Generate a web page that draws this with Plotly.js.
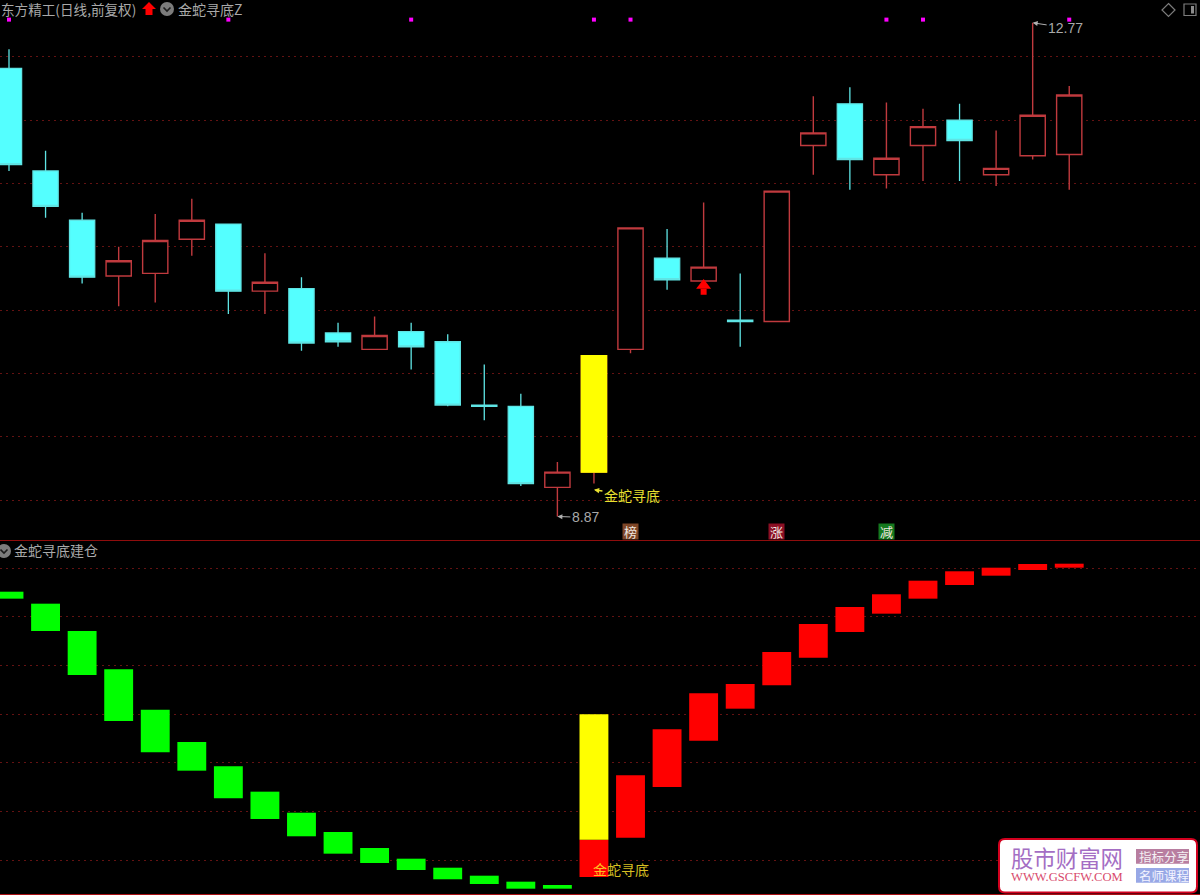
<!DOCTYPE html>
<html>
<head>
<meta charset="utf-8">
<script src="https://cdn.plot.ly/plotly-3.0.1.min.js"></script>
<style>html,body{margin:0;padding:0;background:#000;overflow:hidden}#chart{width:1200px;height:895px}</style>
</head>
<body>
<div id="chart"></div>
<script>
// ---- K-line (price) data ----
const openPrice  = [12.41,11.60,11.21,10.77,10.79,11.06,11.18,10.65,10.67,10.32,10.19,10.33,10.25,9.75,9.74,9.10,9.22,10.19,10.91,10.73,10.42,10.41,11.80,12.13,11.57,11.80,12.00,11.57,11.72,11.73];
const closePrice = [11.65,11.32,10.76,10.89,11.05,11.21,10.65,10.72,10.24,10.25,10.30,10.21,9.75,9.74,9.13,9.22,10.14,11.15,10.74,10.84,10.41,11.44,11.90,11.69,11.70,11.95,11.84,11.62,12.04,12.20];
const highPrice  = [12.56,11.76,11.27,11.00,11.26,11.38,11.18,10.95,10.76,10.40,10.45,10.40,10.31,10.07,9.84,9.30,10.14,11.15,11.14,11.35,10.79,11.44,12.19,12.26,12.14,12.09,12.13,11.92,12.77,12.27];
const lowPrice   = [11.60,11.23,10.71,10.53,10.56,10.93,10.47,10.47,10.18,10.21,10.19,10.03,9.74,9.63,9.11,8.87,9.13,10.16,10.66,10.73,10.21,10.41,11.57,11.45,11.46,11.52,11.52,11.48,11.69,11.45];
const goldIndex  = 16;
const signalDays = [0,6,11,16,17,24,25,29];
const signalLevel = 12.795;
const arrowDay = 19;
const arrowHeadPrice = 10.695;
const arrowTailPrice = 10.645;

// ---- Lower indicator pane data ----
const indicatorTop    = [55.15,52.69,47.08,39.22,30.92,24.29,19.30,14.09,9.77,5.81,2.53,0.33,-1.52,-3.16,-4.39,-5.07,4.21,17.45,26.90,34.29,36.20,42.77,48.52,52.01,54.62,57.41,59.34,60.08,60.84,60.90];
const indicatorBottom = [53.72,47.08,38.05,28.60,22.18,18.40,12.73,8.48,4.93,1.36,-0.55,-1.99,-3.90,-4.87,-5.83,-5.83,-3.43,4.64,15.05,24.56,31.13,35.93,41.60,46.88,50.64,53.72,56.53,58.44,59.61,60.08];
const goldTop = 29.98;
const fallingCount = 16;

// ---- Text ----
const stockTitle = '东方精工(日线,前复权)';
const formulaTitle = '金蛇寻底Z';
const lowerTitle = '金蛇寻底建仓';
const signalLabel = '金蛇寻底';
const badges = [{i:17,t:'榜',c:'#7d4526'},{i:21,t:'涨',c:'#8c0f24'},{i:24,t:'减',c:'#14791e'}];

const W = 1200, H = 895;
const px = v => v / W, py = v => 1 - v / H;
const CJK = '"Noto Sans CJK SC", sans-serif';
const days = openPrice.map((_, i) => i);
const xRange = [-0.2462, 32.577];
const RED = '#c03a3e', CYAN = '#54ffff';

const traces = [
  {type:'candlestick', x:days, open:openPrice, high:highPrice, low:lowPrice, close:closePrice,
   xaxis:'x', yaxis:'y', whiskerwidth:0,
   increasing:{line:{color:RED,width:1.4}, fillcolor:'#000000'},
   decreasing:{line:{color:'#5fe4e4',width:1.3}, fillcolor:CYAN}},
  {type:'candlestick', x:[goldIndex], open:[openPrice[goldIndex]], high:[closePrice[goldIndex]],
   low:[openPrice[goldIndex]], close:[closePrice[goldIndex]],
   xaxis:'x', yaxis:'y', whiskerwidth:0,
   increasing:{line:{color:'#ffff00',width:1.4}, fillcolor:'#ffff00'},
   decreasing:{line:{color:'#ffff00',width:1.4}, fillcolor:'#ffff00'}},
  {type:'scatter', mode:'markers', x:signalDays, y:signalDays.map(() => signalLevel), xaxis:'x', yaxis:'y',
   marker:{symbol:'square', size:4, color:'#ff00ff'}},
  {type:'scatter', mode:'markers', x:[arrowDay], y:[arrowHeadPrice], xaxis:'x', yaxis:'y',
   marker:{symbol:'triangle-up', size:13, color:'#ff0000', line:{width:0}}},
  {type:'scatter', mode:'markers', x:[arrowDay], y:[arrowTailPrice], xaxis:'x', yaxis:'y',
   marker:{symbol:'square', size:6, color:'#ff0000', line:{width:0}}},
  {type:'bar', x:days.slice(0,fallingCount), base:indicatorBottom.slice(0,fallingCount),
   y:indicatorTop.slice(0,fallingCount).map((v,i)=>v-indicatorBottom[i]),
   width:0.79, xaxis:'x2', yaxis:'y2', marker:{color:'#00ff00', line:{width:0}}},
  {type:'bar', x:days.slice(fallingCount), base:indicatorBottom.slice(fallingCount),
   y:indicatorTop.slice(fallingCount).map((v,i)=>v-indicatorBottom[i+fallingCount]),
   width:0.79, xaxis:'x2', yaxis:'y2', marker:{color:'#ff0000', line:{width:0}}},
  {type:'bar', x:[goldIndex], base:[indicatorTop[goldIndex]], y:[goldTop-indicatorTop[goldIndex]],
   width:0.79, xaxis:'x2', yaxis:'y2', marker:{color:'#ffff00', line:{width:0}}}
];

const baseX = {range:xRange, showgrid:false, zeroline:false, showticklabels:false, ticks:'',
  showline:true, fixedrange:true, rangeslider:{visible:false}};
const gridY = {showticklabels:false, ticks:'', zeroline:false, showline:false, fixedrange:true,
  showgrid:true, gridcolor:'#641212', gridwidth:1, griddash:'2px,4px'};

function note(text, x, y, size, color, extra){
  return Object.assign({text, x:px(x), y:py(y), xref:'paper', yref:'paper', showarrow:false,
    xanchor:'left', yanchor:'middle', font:{family:CJK, size, color}}, extra||{});
}

const annotations = [
  note(stockTitle, -1, 9.5, 13.6, '#a9a9a9'),
  note(formulaTitle, 176, 9.5, 14, '#a9a9a9'),
  note(lowerTitle, 12, 550, 14, '#a9a9a9'),
  {text:'8.87', x:15, y:8.87, xref:'x', yref:'y', showarrow:true, ax:28, ay:1, axref:'pixel', ayref:'pixel',
   arrowhead:2, arrowsize:1, arrowwidth:1, arrowcolor:'#b0b0b0', standoff:0,
   font:{family:'"Liberation Sans"', size:14, color:'#a9a9a9'}},
  {text:'12.77', x:28, y:12.77, xref:'x', yref:'y', showarrow:true, ax:33, ay:5, axref:'pixel', ayref:'pixel',
   arrowhead:2, arrowsize:1, arrowwidth:1, arrowcolor:'#b0b0b0', standoff:0,
   font:{family:'"Liberation Sans"', size:14, color:'#a9a9a9'}},
  {text:signalLabel, x:goldIndex, y:9.08, xref:'x', yref:'y', showarrow:true, ax:38, ay:5, axref:'pixel', ayref:'pixel',
   arrowhead:2, arrowsize:0.7, arrowwidth:1.5, arrowcolor:'#e8e030', standoff:0,
   font:{family:CJK, size:14, color:'#e8e030'}},
  {text:signalLabel, x:goldIndex, y:-1.79, xref:'x2', yref:'y2', showarrow:false, xanchor:'center', xshift:27,
   font:{family:CJK, size:14, color:'rgba(255,225,40,0.85)'}},
  note('股市财富网', 1009, 856.5, 22.4, '#a46ec4'),
  note('WWW.GSCFW.COM', 1009, 877, 12.6, '#d84a6c', {font:{family:'"Liberation Serif"', size:12.6, color:'#d84a6c'}}),
  note('指标分享', 1136.5, 856.5, 12.5, '#f4f0f4'),
  note('名师课程', 1136.5, 875.5, 12.5, '#f4f4ff')
];
badges.forEach(b => annotations.push({text:b.t, x:b.i, y:8.751, xref:'x', yref:'y', showarrow:false,
  bgcolor:b.c, width:15, height:15, borderpad:0, font:{family:CJK, size:13, color:'#f0e8e0'}}));

function circle(cx, cy, r, color){
  return {type:'circle', xref:'paper', yref:'paper', x0:px(cx-r), x1:px(cx+r), y0:py(cy+r), y1:py(cy-r),
          fillcolor:color, line:{width:0}};
}
function chevron(cx, cy){
  return {type:'path', xref:'paper', yref:'paper',
    path:`M${px(cx-3.5)} ${py(cy-1.5)} L${px(cx)} ${py(cy+2)} L${px(cx+3.5)} ${py(cy-1.5)}`,
    line:{color:'#1c1c1c', width:1.6}};
}
function box(x0, y0, x1, y1, fill){
  return {type:'rect', xref:'paper', yref:'paper', x0:px(x0), x1:px(x1), y0:py(y1), y1:py(y0),
          fillcolor:fill, line:{width:0}};
}
function poly(points, fill){
  return {type:'path', xref:'paper', yref:'paper', fillcolor:fill, line:{width:0},
    path:points.map((p,i)=>(i?'L':'M')+px(p[0])+' '+py(p[1])).join(' ')+' Z'};
}
function roundBox(x0, y0, x1, y1, r){
  const X=px, Y=py;
  const p = [`M${X(x0+r)} ${Y(y0)}`,`L${X(x1-r)} ${Y(y0)}`,`Q${X(x1)} ${Y(y0)} ${X(x1)} ${Y(y0+r)}`,
             `L${X(x1)} ${Y(y1-r)}`,`Q${X(x1)} ${Y(y1)} ${X(x1-r)} ${Y(y1)}`,`L${X(x0+r)} ${Y(y1)}`,
             `Q${X(x0)} ${Y(y1)} ${X(x0)} ${Y(y1-r)}`,`L${X(x0)} ${Y(y0+r)}`,`Q${X(x0)} ${Y(y0)} ${X(x0+r)} ${Y(y0)}`,'Z'].join(' ');
  return {type:'path', xref:'paper', yref:'paper', path:p, fillcolor:'#ffffff', line:{color:'#d2001e', width:2}};
}

const shapes = [
  {type:'rect', layer:'between', xref:'paper', yref:'y2', x0:px(948), x1:1, y0:9, y1:11, fillcolor:'#000000', line:{width:0}},
  poly([[149,2],[156,9],[152.5,9],[152.5,15],[145.5,15],[145.5,9],[142,9]], '#ff0000'),
  circle(167, 9, 7, '#7c7c7c'), chevron(167, 9),
  circle(4, 551, 7, '#7c7c7c'), chevron(4, 551),
  {type:'path', xref:'paper', yref:'paper',
   path:`M${px(1168.5)} ${py(3.5)} L${px(1175)} ${py(10)} L${px(1168.5)} ${py(16.5)} L${px(1162)} ${py(10)} Z`,
   line:{color:'#7c7c7c', width:1.2}},
  {type:'rect', xref:'paper', yref:'paper', x0:px(1184), x1:px(1196), y0:py(15.5), y1:py(4),
   line:{color:'#7c7c7c', width:1.2}},
  box(1191, 6, 1194, 13.5, '#8c8c8c'),
  roundBox(999, 839, 1197, 892.5, 6),
  box(1136, 849, 1189, 863.7, '#b87ea0'),
  box(1136, 868, 1189, 882.7, '#98a8e6')
];

const layout = {
  width:W, height:H, margin:{l:0,r:0,t:0,b:0}, showlegend:false,
  paper_bgcolor:'#000000', plot_bgcolor:'#000000', barmode:'overlay', hovermode:false,
  boxgap:0.31, boxgroupgap:0,
  xaxis:Object.assign({}, baseX, {anchor:'y', linecolor:'#8f0d0d', linewidth:1.4}),
  xaxis2:Object.assign({}, baseX, {anchor:'y2', linecolor:'#a81014', linewidth:1.4}),
  yaxis:Object.assign({}, gridY, {domain:[355/H,1], range:[8.684,12.95], tick0:9, dtick:0.5}),
  yaxis2:Object.assign({}, gridY, {domain:[1/H,354/H], range:[-6.92,65.56], tick0:0, dtick:10}),
  annotations, shapes
};
Plotly.newPlot('chart', traces, layout, {staticPlot:true, displayModeBar:false});
</script>
</body>
</html>
